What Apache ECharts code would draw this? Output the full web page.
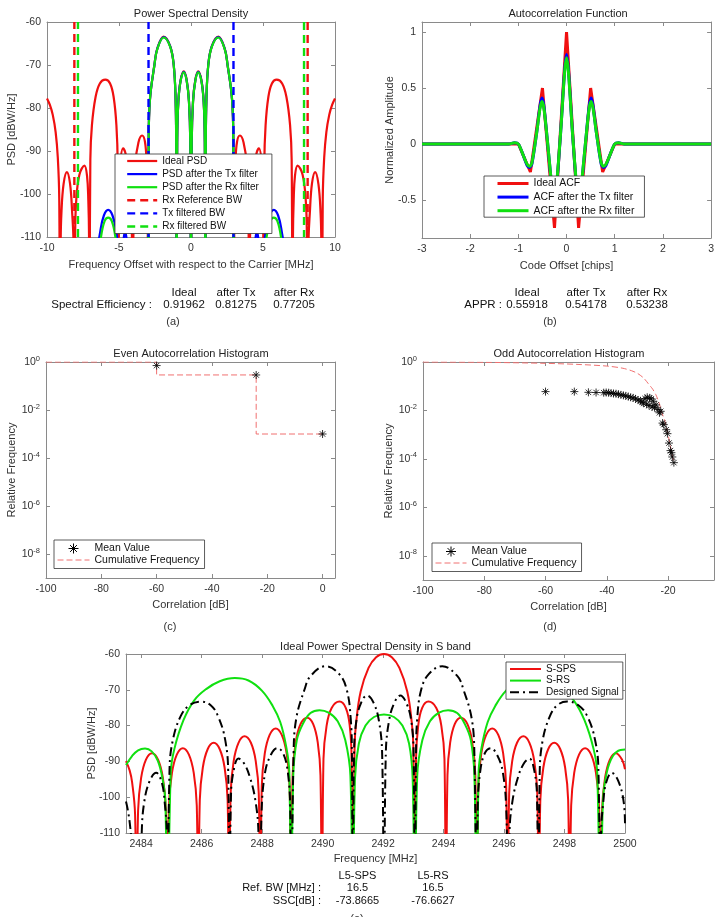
<!DOCTYPE html>
<html>
<head>
<meta charset="utf-8">
<script src="https://cdn.jsdelivr.net/npm/echarts@6/dist/echarts.min.js"></script>
<style>
  html, body { margin: 0; padding: 0; background: #fff; }
  #main { width: 717px; height: 917px; }
</style>
</head>
<body>
<div id="main"></div>
<script>
// ---- (a) PSD, offset from carrier [MHz] / dBW/Hz (values under -110 are off-plot nulls)
const psdIdeal = [
  [-10,-77.8],[-9.8,-79.3],[-9.6,-81.6],[-9.4,-85.6],[-9.25,-91.5],[-9.15,-101],[-9.1,-140],
  [-9.05,-111],[-9,-104.5],[-8.85,-97.7],[-8.62,-94.9],[-8.4,-97.6],[-8.25,-104.5],[-8.16,-111],[-8.1,-140],
  [-8.05,-110],[-7.97,-101.5],[-7.75,-95.5],[-7.4,-93.4],[-7.22,-95.8],[-7.13,-101.5],[-7.08,-110],[-7.05,-140],
  [-6.99,-92],[-6.88,-84],[-6.63,-77.5],[-6.33,-74.3],[-5.95,-73.4],[-5.62,-74.3],[-5.37,-77.5],[-5.18,-84],[-5.09,-93],[-5.05,-140],
  [-5,-100],[-4.92,-93],[-4.72,-89.4],[-4.55,-90.5],[-4.37,-94.5],[-4.2,-101],[-4.1,-110],[-4.05,-140],
  [-3.99,-105],[-3.87,-93],[-3.65,-88],[-3.4,-86.4],[-3.2,-87.8],[-3.08,-93],[-3.01,-103],[-2.98,-140],
  [-2.94,-88],[-2.85,-78],[-2.54,-70],[-2.34,-66.2],[-1.9,-63.4],[-1.45,-65.6],[-1.2,-70],[-1.07,-78],[-1.03,-88],[-1,-140],
  [-0.96,-88],[-0.88,-78.5],[-0.72,-73.5],[-0.5,-71.5],[-0.3,-73.5],[-0.14,-78.5],[-0.05,-88],[0,-140],
  [0.05,-88],[0.14,-78.5],[0.3,-73.5],[0.5,-71.5],[0.72,-73.5],[0.88,-78.5],[0.96,-88],[1,-140],
  [1.03,-88],[1.07,-78],[1.2,-70],[1.45,-65.6],[1.9,-63.4],[2.34,-66.2],[2.54,-70],[2.85,-78],[2.94,-88],[2.98,-140],
  [3.01,-103],[3.08,-93],[3.2,-87.8],[3.4,-86.4],[3.65,-88],[3.87,-93],[3.99,-105],[4.05,-140],
  [4.1,-110],[4.2,-101],[4.37,-94.5],[4.55,-90.5],[4.72,-89.4],[4.92,-93],[5,-100],[5.05,-140],
  [5.09,-93],[5.18,-84],[5.37,-77.5],[5.62,-74.3],[5.95,-73.4],[6.33,-74.3],[6.63,-77.5],[6.88,-84],[6.99,-92],[7.05,-140],
  [7.08,-110],[7.13,-101.5],[7.22,-95.8],[7.4,-93.4],[7.75,-95.5],[7.97,-101.5],[8.05,-110],[8.1,-140],
  [8.16,-111],[8.25,-104.5],[8.4,-97.6],[8.62,-94.9],[8.85,-97.7],[9,-104.5],[9.05,-111],[9.1,-140],
  [9.15,-101],[9.25,-91.5],[9.4,-85.6],[9.6,-81.6],[9.8,-79.3],[10,-77.8]
];
const psdTx = [
  [-10,-140],[-6.65,-140],[-6.5,-114],[-6.3,-108.7],[-6.05,-105],[-5.75,-103.7],[-5.45,-105],[-5.2,-108.7],[-5,-114],[-4.85,-140],
  [-4.7,-112],[-4.58,-108.8],[-4.45,-112],[-4.3,-140],[-3.8,-120],[-3.55,-117],[-3.3,-120],[-2.98,-140],
  [-2.94,-88],[-2.85,-78],[-2.54,-70],[-2.34,-66.2],[-1.9,-63.5],[-1.45,-65.6],[-1.2,-70],[-1.07,-78],[-1.03,-88],[-1,-140],
  [-0.96,-88],[-0.88,-78.5],[-0.72,-73.6],[-0.5,-71.6],[-0.3,-73.6],[-0.14,-78.5],[-0.05,-88],[0,-140],
  [0.05,-88],[0.14,-78.5],[0.3,-73.6],[0.5,-71.6],[0.72,-73.6],[0.88,-78.5],[0.96,-88],[1,-140],
  [1.03,-88],[1.07,-78],[1.2,-70],[1.45,-65.6],[1.9,-63.5],[2.34,-66.2],[2.54,-70],[2.85,-78],[2.94,-88],[2.98,-140],
  [3.3,-120],[3.55,-117],[3.8,-120],[4.3,-140],[4.45,-112],[4.58,-108.8],[4.7,-112],[4.85,-140],
  [5,-114],[5.2,-108.7],[5.45,-105],[5.75,-103.7],[6.05,-105],[6.3,-108.7],[6.5,-114],[6.65,-140],[10,-140]
];
const psdRx = [
  [-10,-140],[-6.65,-140],[-6.5,-118],[-6.25,-110],[-6,-106.3],[-5.75,-105.5],[-5.5,-106.3],[-5.25,-110],[-5,-118],[-4.85,-140],
  [-4.58,-113],[-4.3,-140],[-3.55,-121],[-2.98,-140],
  [-2.94,-88],[-2.85,-78],[-2.54,-70],[-2.34,-66.3],[-1.9,-63.6],[-1.45,-65.7],[-1.2,-70],[-1.07,-78],[-1.03,-88],[-1,-140],
  [-0.96,-88],[-0.88,-78.6],[-0.72,-73.7],[-0.5,-71.7],[-0.3,-73.7],[-0.14,-78.6],[-0.05,-88],[0,-140],
  [0.05,-88],[0.14,-78.6],[0.3,-73.7],[0.5,-71.7],[0.72,-73.7],[0.88,-78.6],[0.96,-88],[1,-140],
  [1.03,-88],[1.07,-78],[1.2,-70],[1.45,-65.7],[1.9,-63.6],[2.34,-66.3],[2.54,-70],[2.85,-78],[2.94,-88],[2.98,-140],
  [3.55,-121],[4.3,-140],[4.58,-113],[4.85,-140],
  [5,-118],[5.25,-110],[5.5,-106.3],[5.75,-105.5],[6,-106.3],[6.25,-110],[6.5,-118],[6.65,-140],[10,-140]
];
const rxRefBw = [-8.1, 8.1];
const txBw = [-2.95, 2.95];
const rxBw = [-7.85, 7.85];

// ---- (b) ACF, code offset [chips] / normalized amplitude
const acfIdeal = [[-3,0],[-1,0],[-0.75,-0.25],[-0.5,0.5],[-0.25,-0.75],[0,1],[0.25,-0.75],[0.5,0.5],[0.75,-0.25],[1,0],[3,0]];
const acfTx = [
  [-3,0],[-1.2,0],[-1.08,0.012],[-1,0],[-0.9,-0.1],[-0.82,-0.19],[-0.77,-0.21],[-0.72,-0.18],[-0.62,0.1],[-0.55,0.34],[-0.51,0.41],
  [-0.47,0.34],[-0.4,0.04],[-0.3,-0.42],[-0.26,-0.6],[-0.22,-0.46],[-0.12,0.12],[-0.04,0.66],[0,0.8],
  [0.04,0.66],[0.12,0.12],[0.22,-0.46],[0.26,-0.6],[0.3,-0.42],[0.4,0.04],[0.47,0.34],[0.51,0.41],[0.55,0.34],[0.62,0.1],
  [0.72,-0.18],[0.77,-0.21],[0.82,-0.19],[0.9,-0.1],[1,0],[1.08,0.012],[1.2,0],[3,0]
];
const acfRx = [
  [-3,0],[-1.2,0],[-1.08,0.012],[-1,0],[-0.9,-0.1],[-0.82,-0.18],[-0.77,-0.2],[-0.72,-0.17],[-0.62,0.1],[-0.55,0.32],[-0.51,0.38],
  [-0.47,0.32],[-0.4,0.04],[-0.3,-0.41],[-0.26,-0.57],[-0.22,-0.44],[-0.12,0.12],[-0.04,0.64],[0,0.77],
  [0.04,0.64],[0.12,0.12],[0.22,-0.44],[0.26,-0.57],[0.3,-0.41],[0.4,0.04],[0.47,0.32],[0.51,0.38],[0.55,0.32],[0.62,0.1],
  [0.72,-0.17],[0.77,-0.2],[0.82,-0.18],[0.9,-0.1],[1,0],[1.08,0.012],[1.2,0],[3,0]
];

// ---- (c) even autocorrelation histogram
const evenMean = [[-60,0.71],[-24,0.288],[0,0.001]];
const evenCum = [[-100,1],[-60,1],[-60,0.289],[-24,0.289],[-24,0.001],[0,0.001]];

// ---- (d) odd autocorrelation histogram
const oddMean = [
  [-60,0.060],[-50.6,0.060],[-46,0.056],[-43.5,0.055],[-41,0.054],[-40.2,0.055],[-39.4,0.054],[-38.6,0.052],[-37.8,0.050],
  [-37,0.049],[-36.2,0.047],[-35.4,0.044],[-34.6,0.042],[-33.8,0.040],[-33,0.037],[-32.2,0.035],[-31.4,0.033],[-30.6,0.030],
  [-29.8,0.027],[-29,0.025],[-28.5,0.022],[-28,0.020],[-27.5,0.031],[-27,0.018],[-26.8,0.035],[-26.2,0.016],[-26,0.033],
  [-25.5,0.030],[-25.2,0.014],[-24.8,0.024],[-24.4,0.013],[-23.9,0.017],[-23.3,0.011],[-22.8,0.008],[-22.4,0.0092],
  [-21.8,0.0030],[-21.4,0.0026],[-20.6,0.0016],[-20.2,0.0011],[-19.7,0.00045],[-19.2,0.00022],[-18.9,0.00018],
  [-18.6,0.00012],[-18.1,0.00007]
];
const oddCum = [
  [-100,1],[-80,0.97],[-60,0.88],[-50,0.80],[-40,0.68],[-35,0.56],[-32,0.44],[-30,0.34],[-28,0.22],[-26.5,0.13],
  [-25,0.075],[-24,0.045],[-23,0.022],[-22,0.008],[-21,0.0035],[-20.2,0.0013],[-19.5,0.0005],[-18.8,0.00018],[-18.1,0.00007]
];

// ---- (e) S band PSD, frequency [MHz] / dBW/Hz
const spsPsd = [
  [2483.5,-89.9],[2483.62,-92.5],[2483.7,-95.7],[2483.8,-104.8],[2483.85,-140],
  [2483.9,-103.7],[2484,-94.6],[2484.16,-89.5],[2484.36,-87.7],[2484.56,-89.5],[2484.72,-94.6],[2484.82,-103.7],[2484.87,-140],
  [2484.92,-102.3],[2485.02,-93.2],[2485.18,-88.1],[2485.38,-86.3],[2485.58,-88.1],[2485.74,-93.2],[2485.84,-102.3],[2485.89,-140],
  [2485.94,-100.8],[2486.04,-91.7],[2486.2,-86.6],[2486.4,-84.8],[2486.6,-86.6],[2486.76,-91.7],[2486.86,-100.8],[2486.91,-140],
  [2486.96,-99],[2487.06,-89.9],[2487.22,-84.8],[2487.42,-83],[2487.63,-84.8],[2487.79,-89.9],[2487.89,-99],[2487.94,-140],
  [2487.99,-96.8],[2488.09,-87.7],[2488.25,-82.6],[2488.45,-80.8],[2488.65,-82.6],[2488.81,-87.7],[2488.91,-96.8],[2488.96,-140],
  [2489.01,-93.8],[2489.11,-84.7],[2489.27,-79.6],[2489.49,-77.8],[2489.69,-79.6],[2489.84,-84.7],[2489.93,-93.8],[2489.98,-140],
  [2490.03,-89.3],[2490.13,-80.2],[2490.3,-75.1],[2490.56,-73.3],[2490.77,-75.1],[2490.9,-80.2],[2490.96,-89.3],[2491,-140],
  [2491.06,-85.6],[2491.11,-79.2],[2491.26,-70.5],[2491.52,-63.9],[2491.77,-60.9],[2492.03,-60],[2492.29,-60.9],[2492.54,-63.9],
  [2492.8,-70.5],[2492.95,-79.2],[2493,-85.6],[2493.05,-140],
  [2493.09,-89.3],[2493.16,-80.2],[2493.29,-75.1],[2493.5,-73.3],[2493.76,-75.1],[2493.93,-80.2],[2494.03,-89.3],[2494.08,-140],
  [2494.13,-93.8],[2494.22,-84.7],[2494.37,-79.6],[2494.57,-77.8],[2494.79,-79.6],[2494.95,-84.7],[2495.05,-93.8],[2495.1,-140],
  [2495.15,-96.8],[2495.25,-87.7],[2495.41,-82.6],[2495.61,-80.8],[2495.81,-82.6],[2495.97,-87.7],[2496.07,-96.8],[2496.12,-140],
  [2496.17,-99],[2496.27,-89.9],[2496.43,-84.8],[2496.64,-83],[2496.84,-84.8],[2497,-89.9],[2497.1,-99],[2497.15,-140],
  [2497.2,-100.8],[2497.3,-91.7],[2497.46,-86.6],[2497.66,-84.8],[2497.86,-86.6],[2498.02,-91.7],[2498.12,-100.8],[2498.17,-140],
  [2498.22,-102.3],[2498.32,-93.2],[2498.48,-88.1],[2498.68,-86.3],[2498.88,-88.1],[2499.04,-93.2],[2499.14,-102.3],[2499.19,-140],
  [2499.24,-103.7],[2499.34,-94.6],[2499.5,-89.5],[2499.7,-87.7],[2499.9,-89.5],[2500,-92.2]
];
const rsPsd = [
  [2483.5,-91],[2483.7,-88.5],[2483.9,-86.9],[2484.13,-86.4],[2484.35,-87.2],[2484.55,-89.8],[2484.7,-94.5],[2484.8,-101],[2484.87,-140],
  [2484.98,-93],[2485.1,-86.5],[2485.4,-78.5],[2485.75,-73],[2486.15,-69.8],[2486.6,-67.6],[2487.1,-66.7],[2487.55,-67.4],
  [2488,-70.3],[2488.35,-74.5],[2488.6,-79],[2488.8,-86],[2488.9,-93],[2488.96,-140],
  [2489.03,-94],[2489.15,-84],[2489.35,-79.5],[2489.6,-76.5],[2489.9,-75.7],[2490.2,-76.4],[2490.5,-78.8],[2490.75,-84],[2490.92,-94],[2491,-140],
  [2491.07,-95],[2491.2,-85],[2491.42,-80],[2491.7,-77.6],[2492.03,-76.9],[2492.36,-77.6],[2492.64,-80],[2492.86,-85],[2492.98,-95],[2493.05,-140],
  [2493.13,-94],[2493.3,-84],[2493.55,-78.8],[2493.85,-76.4],[2494.15,-75.7],[2494.45,-76.5],[2494.7,-79.5],[2494.9,-84],[2495.02,-94],[2495.1,-140],
  [2495.16,-93],[2495.26,-86],[2495.46,-79],[2495.71,-74.5],[2496.06,-70.3],[2496.51,-67.4],[2496.96,-66.7],[2497.46,-67.6],
  [2497.91,-69.8],[2498.31,-73],[2498.66,-78.5],[2498.96,-86.5],[2499.08,-93],[2499.19,-140],
  [2499.27,-101],[2499.4,-93],[2499.6,-88.5],[2499.85,-86.8],[2500,-86.7]
];
const designedPsd = [
  [2483.5,-101.2],[2483.58,-104.5],[2483.66,-110],[2483.75,-118],[2483.97,-140],
  [2484.02,-110],[2484.1,-101.5],[2484.28,-95.5],[2484.5,-93.2],[2484.68,-95.8],[2484.78,-101.5],[2484.85,-110],[2484.88,-140],
  [2484.94,-92],[2485.05,-84],[2485.3,-77.5],[2485.6,-74.3],[2485.97,-73.3],[2486.3,-74.3],[2486.55,-77.5],[2486.78,-84],[2486.88,-93],[2486.92,-140],
  [2486.97,-100],[2487.05,-93],[2487.22,-89.2],[2487.4,-90.5],[2487.6,-94.5],[2487.78,-101],[2487.88,-110],[2487.92,-140],
  [2487.98,-105],[2488.1,-93],[2488.3,-88],[2488.5,-86.3],[2488.7,-87.8],[2488.85,-93],[2488.93,-103],[2488.96,-140],
  [2489.04,-88],[2489.13,-78],[2489.4,-70],[2489.6,-66.2],[2490.1,-63.4],[2490.55,-65.6],[2490.8,-70],[2490.93,-78],[2490.97,-88],[2491,-140],
  [2491.04,-88],[2491.12,-78.5],[2491.28,-73.5],[2491.47,-71.6],[2491.68,-73.5],[2491.86,-78.5],[2491.97,-88],[2492.03,-140],
  [2492.09,-88],[2492.2,-78.5],[2492.38,-73.5],[2492.57,-71.6],[2492.76,-73.5],[2492.93,-78.5],[2493.01,-88],[2493.05,-140],
  [2493.09,-88],[2493.13,-78],[2493.26,-70],[2493.51,-65.6],[2493.96,-63.4],[2494.46,-66.2],[2494.66,-70],[2494.93,-78],[2495.02,-88],[2495.1,-140],
  [2495.13,-103],[2495.21,-93],[2495.36,-87.8],[2495.56,-86.3],[2495.76,-88],[2495.96,-93],[2496.08,-105],[2496.14,-140],
  [2496.18,-110],[2496.28,-101],[2496.46,-94.5],[2496.66,-90.5],[2496.84,-89.2],[2497.01,-93],[2497.09,-100],[2497.14,-140],
  [2497.18,-93],[2497.28,-84],[2497.51,-77.5],[2497.76,-74.3],[2498.09,-73.3],[2498.46,-74.3],[2498.76,-77.5],[2499.01,-84],[2499.12,-92],[2499.18,-140],
  [2499.21,-110],[2499.28,-101.5],[2499.38,-95.8],[2499.56,-93.2],[2499.78,-95.5],[2499.96,-101.5],[2500,-107.7]
];

// ---- tick labels and tables
const logTicks = [1e-8, 1e-6, 1e-4, 1e-2, 1];
const acfTicksY = [-0.5, 0, 0.5, 1];
const corrTicksC = [-100, -80, -60, -40, -20, 0];
const corrTicksD = [-100, -80, -60, -40, -20];
const freqTicks = [2484, 2486, 2488, 2490, 2492, 2494, 2496, 2498, 2500];
const tableCols = ['Ideal', 'after Tx', 'after Rx'];
const spectralEff = ['0.91962', '0.81275', '0.77205'];
const apprValues = ['0.55918', '0.54178', '0.53238'];
const sbandCols = ['L5-SPS', 'L5-RS'];
const refBw = ['16.5', '16.5'];
const sscValues = ['-73.8665', '-76.6627'];

const FONT = '"Liberation Sans", Arial, Helvetica, sans-serif';
const RED = '#f01010', BLUE = '#0000ff', GREEN = '#10e010', PINK = '#f07070';
const AXC = '#8a8a8a';

const grids = [
  { left: 47, top: 22, width: 288, height: 215 },
  { left: 422, top: 22, width: 292, height: 216 },
  { left: 46, top: 362, width: 289, height: 216 },
  { left: 423, top: 362, width: 291, height: 218 },
  { left: 126, top: 654, width: 499, height: 179 }
];

function axisPair(dim, g, base, name, nameGap) {
  const common = {
    gridIndex: g,
    axisLine: { show: true, onZero: false, lineStyle: { color: AXC, width: 1 } },
    splitLine: { show: false },
    axisTick: { show: true, inside: true, length: 4, lineStyle: { color: AXC } },
    axisLabel: { color: '#333', fontSize: 10.5, fontFamily: FONT, margin: 6 },
    z: 3
  };
  const main = echarts.util.merge(echarts.util.clone(common), base, true);
  main.position = dim === 'x' ? 'bottom' : 'left';
  if (name) {
    main.name = name;
    main.nameLocation = 'middle';
    main.nameGap = nameGap;
    main.nameMoveOverlap = false;
    main.nameTextStyle = { color: '#333', fontSize: 11, fontFamily: FONT };
  }
  const mirror = echarts.util.merge(echarts.util.clone(common), base, true);
  mirror.position = dim === 'x' ? 'top' : 'right';
  mirror.axisLabel = echarts.util.merge(echarts.util.clone(mirror.axisLabel), { show: false }, true);
  return [main, mirror];
}

const supFmt = v => {
  const e = v > 0 ? Math.round(Math.log10(v)) : Math.round(v);
  return '10{e|' + e + '}';
};
const logBase = {
  type: 'log', logBase: 10, min: 1e-9, max: 1,
  axisLabel: { customValues: logTicks, formatter: supFmt,
    rich: { e: { fontSize: 7.5, fontFamily: FONT, color: '#333', padding: [0, 0, 7, 0] } } },
  axisTick: { customValues: logTicks }
};
const plainFmt = v => String(v);

const xAxes = [].concat(
  axisPair('x', 0, { type: 'value', min: -10, max: 10, interval: 5 }, 'Frequency Offset with respect to the Carrier [MHz]', 22),
  axisPair('x', 1, { type: 'value', min: -3, max: 3, interval: 1 }, 'Code Offset [chips]', 22),
  axisPair('x', 2, { type: 'value', min: -100, max: 4.5, axisLabel: { customValues: corrTicksC }, axisTick: { customValues: corrTicksC } }, 'Correlation [dB]', 21),
  axisPair('x', 3, { type: 'value', min: -100, max: -5, axisLabel: { customValues: corrTicksD }, axisTick: { customValues: corrTicksD } }, 'Correlation [dB]', 21),
  axisPair('x', 4, { type: 'value', min: 2483.5, max: 2500, axisLabel: { customValues: freqTicks, formatter: plainFmt }, axisTick: { customValues: freqTicks } }, 'Frequency [MHz]', 20)
);
const yAxes = [].concat(
  axisPair('y', 0, { type: 'value', min: -110, max: -60, interval: 10 }, 'PSD [dBW/Hz]', 30),
  axisPair('y', 1, { type: 'value', min: -0.84, max: 1.09, axisLabel: { customValues: acfTicksY }, axisTick: { customValues: acfTicksY } }, 'Normalized Amplitude', 27),
  axisPair('y', 2, logBase, 'Relative Frequency', 29),
  axisPair('y', 3, logBase, 'Relative Frequency', 29),
  axisPair('y', 4, { type: 'value', min: -110, max: -60, interval: 10 }, 'PSD [dBW/Hz]', 29)
);

function line(name, data, g, color, width, extra) {
  return Object.assign({
    type: 'line', name: name, data: data, xAxisIndex: 2 * g, yAxisIndex: 2 * g,
    symbol: 'none', showSymbol: false, smooth: 0.4, clip: true, silent: true,
    lineStyle: { color: color, width: width }, itemStyle: { color: color },
    emphasis: { disabled: true }, animation: false
  }, extra || {});
}
function vlines(name, xs, color, dash) {
  const d = [[xs[0], -110], [xs[0], -60], [0, '-'], [xs[1], -60], [xs[1], -110]];
  return line(name, d, 0, color, 2.4, { smooth: false, lineStyle: { color: color, width: 2.4, type: dash } });
}
const STAR = 'path://M5,0L5,10M0,5L10,5M1.6,1.6L8.4,8.4M1.6,8.4L8.4,1.6';
function stars(name, data, g) {
  return {
    type: 'scatter', name: name, data: data, xAxisIndex: 2 * g, yAxisIndex: 2 * g,
    symbol: STAR, symbolSize: 8, silent: true, animation: false,
    itemStyle: { color: '#000', borderColor: '#000', borderWidth: 1 }, z: 4
  };
}

const series = [
  line('Ideal PSD', psdIdeal, 0, RED, 2.2),
  line('PSD after the Tx filter', psdTx, 0, BLUE, 2.2),
  line('PSD after the Rx filter', psdRx, 0, GREEN, 2.2),
  vlines('Rx Reference BW', rxRefBw, RED, [8, 5]),
  vlines('Tx filtered BW', txBw, BLUE, [8, 5]),
  vlines('Rx filtered BW', rxBw, GREEN, [8, 5]),
  line('Ideal ACF', acfIdeal, 1, RED, 3, { smooth: false }),
  line('ACF after the Tx filter', acfTx, 1, BLUE, 3, { smooth: 0.3 }),
  line('ACF after the Rx filter', acfRx, 1, GREEN, 3, { smooth: 0.3 }),
  stars('Mean Value', evenMean, 2),
  line('Cumulative Frequency', evenCum, 2, PINK, 1, { smooth: false, lineStyle: { color: PINK, width: 1, type: [6, 3] } }),
  stars('Mean Value', oddMean, 3),
  line('Cumulative Frequency', oddCum, 3, PINK, 1, { smooth: 0.3, lineStyle: { color: PINK, width: 1, type: [6, 3] } }),
  line('S-SPS', spsPsd, 4, RED, 2),
  line('S-RS', rsPsd, 4, GREEN, 2),
  line('Designed Signal', designedPsd, 4, '#000', 2, { lineStyle: { color: '#000', width: 2, type: [9, 4, 2, 4] } })
];

// line-only legend entries hide the marker, the star entry keeps it
const lineItem = n => ({ name: n, itemStyle: { opacity: 0 } });
const starItem = n => ({ name: n, itemStyle: { opacity: 1, color: '#000', borderColor: '#000', borderWidth: 1 } });
function legendBox(names, left, top, opts) {
  return Object.assign({
    data: names, left: left, top: top, orient: 'vertical', selectedMode: false,
    itemWidth: 30, itemHeight: 12, itemGap: 3.1, padding: [2, 13, 2, 11],
    backgroundColor: '#fff', borderColor: '#333', borderWidth: 0.8, borderRadius: 0,
    textStyle: { fontSize: 10, fontFamily: FONT, color: '#111' },
    lineStyle: { width: 'inherit' }, z: 10
  }, opts || {});
}
const legends = [
  legendBox(['Ideal PSD', 'PSD after the Tx filter', 'PSD after the Rx filter', 'Rx Reference BW', 'Tx filtered BW', 'Rx filtered BW'].map(lineItem), 115, 154),
  legendBox(['Ideal ACF', 'ACF after the Tx filter', 'ACF after the Rx filter'].map(lineItem), 484, 176,
    { itemWidth: 31, itemHeight: 12, itemGap: 2.6, padding: [2, 10, 1, 12], textStyle: { fontSize: 10.5, fontFamily: FONT, color: '#111' } }),
  legendBox([starItem('Mean Value'), lineItem('Cumulative Frequency')], 54, 540,
    { itemWidth: 32, itemHeight: 10, itemGap: 0.5, padding: [3, 5, 3, 3], textStyle: { fontSize: 10.5, fontFamily: FONT, color: '#111' } }),
  legendBox([starItem('Mean Value'), lineItem('Cumulative Frequency')], 432, 543,
    { itemWidth: 31, itemHeight: 10, itemGap: 0.5, padding: [3, 5, 3, 3], textStyle: { fontSize: 10.5, fontFamily: FONT, color: '#111' } }),
  legendBox(['S-SPS', 'S-RS', 'Designed Signal'].map(lineItem), 506, 662,
    { itemWidth: 31, itemHeight: 12, itemGap: 1.6, padding: [2, 4, 2, 3] })
];

function txt(text, x, y, font, align, color) {
  return { type: 'text', x: x, y: y, silent: true, z: 20,
    style: { text: text, font: font, fill: color || '#222', align: align || 'center', verticalAlign: 'middle' } };
}
const tf = '11px ' + FONT;
const nf = '11.5px ' + FONT;
const graphics = [
  txt('Power Spectral Density', 191, 14, tf),
  txt('Autocorrelation Function', 568, 14, tf),
  txt('Even Autocorrelation Histogram', 191, 354, tf),
  txt('Odd Autocorrelation Histogram', 569, 354, tf),
  txt('Ideal Power Spectral Density in S band', 375.5, 647, tf),
  txt('Spectral Efficiency :', 152, 305, nf, 'right', '#111'),
  txt('APPR :', 502, 305, nf, 'right', '#111'),
  txt('(a)', 173, 322, '11px ' + FONT, 'center', '#333'),
  txt('(b)', 550, 322, '11px ' + FONT, 'center', '#333'),
  txt('(c)', 170, 627, '11px ' + FONT, 'center', '#333'),
  txt('(d)', 550, 627, '11px ' + FONT, 'center', '#333'),
  txt('(e)', 357, 919, '11px ' + FONT, 'center', '#333'),
  txt('Ref. BW [MHz] :', 321, 888, tf, 'right', '#111'),
  txt('SSC[dB] :', 321, 900.5, tf, 'right', '#111')
];
const colA = [184, 236, 294], colB = [527, 586, 647];
tableCols.forEach((c, i) => {
  graphics.push(txt(c, colA[i], 293, nf, 'center', '#111'));
  graphics.push(txt(spectralEff[i], colA[i], 305, nf, 'center', '#111'));
  graphics.push(txt(c, colB[i], 293, nf, 'center', '#111'));
  graphics.push(txt(apprValues[i], colB[i], 305, nf, 'center', '#111'));
});
const colE = [357.5, 433];
sbandCols.forEach((c, i) => {
  graphics.push(txt(c, colE[i], 876, tf, 'center', '#111'));
  graphics.push(txt(refBw[i], colE[i], 888, tf, 'center', '#111'));
  graphics.push(txt(sscValues[i], colE[i], 900.5, tf, 'center', '#111'));
});

const chart = echarts.init(document.getElementById('main'), null, { renderer: 'canvas' });
chart.setOption({
  animation: false,
  backgroundColor: '#fff',
  textStyle: { fontFamily: FONT },
  grid: grids,
  xAxis: xAxes,
  yAxis: yAxes,
  legend: legends,
  series: series,
  graphic: graphics
});
</script>
</body>
</html>
